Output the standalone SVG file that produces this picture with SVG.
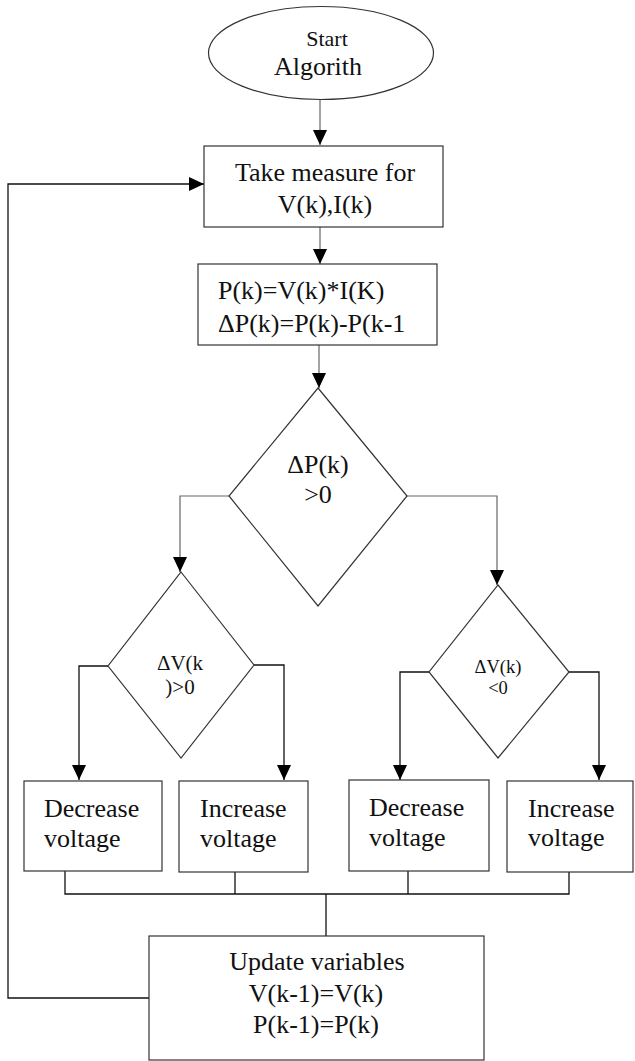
<svg xmlns="http://www.w3.org/2000/svg" width="635" height="1061" viewBox="0 0 635 1061">
<style>
.shape{fill:#fff;stroke:#333;stroke-width:1.2}
.c{fill:none;stroke:#111;stroke-width:1.3}
.g{fill:none;stroke:#666;stroke-width:1.2}
text{font-family:"Liberation Serif","Times New Roman",serif;fill:#111;font-size:26px}
.m{text-anchor:middle}
</style>
<defs>
<marker id="ah" markerUnits="userSpaceOnUse" markerWidth="16" markerHeight="15" refX="15" refY="7" orient="auto">
<path d="M0,0 L15,7 L0,14 z" fill="#000"/>
</marker>
</defs>
<rect width="635" height="1061" fill="#fff"/>
<g id="connectors">
<path class="g" d="M320,99 V145" marker-end="url(#ah)"/>
<path class="g" d="M320,227 V264" marker-end="url(#ah)"/>
<path class="g" d="M319,345 V388" marker-end="url(#ah)"/>
<path class="g" d="M229,496 H180 V572" marker-end="url(#ah)"/>
<path class="g" d="M407,496 H497 V585" marker-end="url(#ah)"/>
<path class="c" d="M108,666 H79 V780" marker-end="url(#ah)"/>
<path class="c" d="M254,665 H284 V780" marker-end="url(#ah)"/>
<path class="c" d="M429,672 H400 V780" marker-end="url(#ah)"/>
<path class="c" d="M569,672 H599 V780" marker-end="url(#ah)"/>
<path class="c" d="M65,871 V894 H569 V871 M235,872 V894 M408,871 V894 M326,894 V936"/>
<path class="c" d="M149,998 H8 V184 H204" marker-end="url(#ah)"/>
</g>
<g id="start">
<ellipse class="shape" cx="321" cy="53" rx="112.5" ry="46.5"/>
<text class="m" x="327" y="46" style="font-size:22px">Start</text>
<text class="m" x="318" y="75">Algorith</text>
</g>
<g id="measure">
<rect class="shape" x="204" y="146" width="239" height="81"/>
<text class="m" x="325" y="181">Take measure for</text>
<text class="m" x="325" y="213">V(k),I(k)</text>
</g>
<g id="compute">
<rect class="shape" x="198" y="264" width="239" height="81"/>
<text x="218" y="299">P(k)=V(k)*I(K)</text>
<text x="218" y="332">ΔP(k)=P(k)-P(k-1</text>
</g>
<g id="dp">
<polygon class="shape" points="318,388 407,496 318,606 229,496"/>
<text class="m" x="318" y="473">ΔP(k)</text>
<text class="m" x="318" y="503">&gt;0</text>
</g>
<g id="dv1">
<polygon class="shape" points="181,572 254,665 181,758 108,666"/>
<text class="m" x="180" y="670" style="font-size:21px">ΔV(k</text>
<text class="m" x="180" y="694" style="font-size:21px">)&gt;0</text>
</g>
<g id="dv2">
<polygon class="shape" points="498,585 569,672 498,758 429,672"/>
<text class="m" x="498" y="673" style="font-size:18.5px">ΔV(k)</text>
<text class="m" x="498" y="694" style="font-size:18.5px">&lt;0</text>
</g>
<g id="dec1">
<rect class="shape" x="24" y="781" width="138" height="90"/>
<text x="44" y="817">Decrease</text>
<text x="44" y="847">voltage</text>
</g>
<g id="inc1">
<rect class="shape" x="179" y="781" width="129" height="91"/>
<text x="200" y="817">Increase</text>
<text x="200" y="847">voltage</text>
</g>
<g id="dec2">
<rect class="shape" x="349" y="780" width="140" height="91"/>
<text x="369" y="816">Decrease</text>
<text x="369" y="846">voltage</text>
</g>
<g id="inc2">
<rect class="shape" x="507" y="781" width="126" height="91"/>
<text x="528" y="817">Increase</text>
<text x="528" y="846">voltage</text>
</g>
<g id="update">
<rect class="shape" x="149" y="936" width="335" height="124"/>
<text class="m" x="317" y="970">Update variables</text>
<text class="m" x="316" y="1002">V(k-1)=V(k)</text>
<text class="m" x="316" y="1033">P(k-1)=P(k)</text>
</g>
</svg>
